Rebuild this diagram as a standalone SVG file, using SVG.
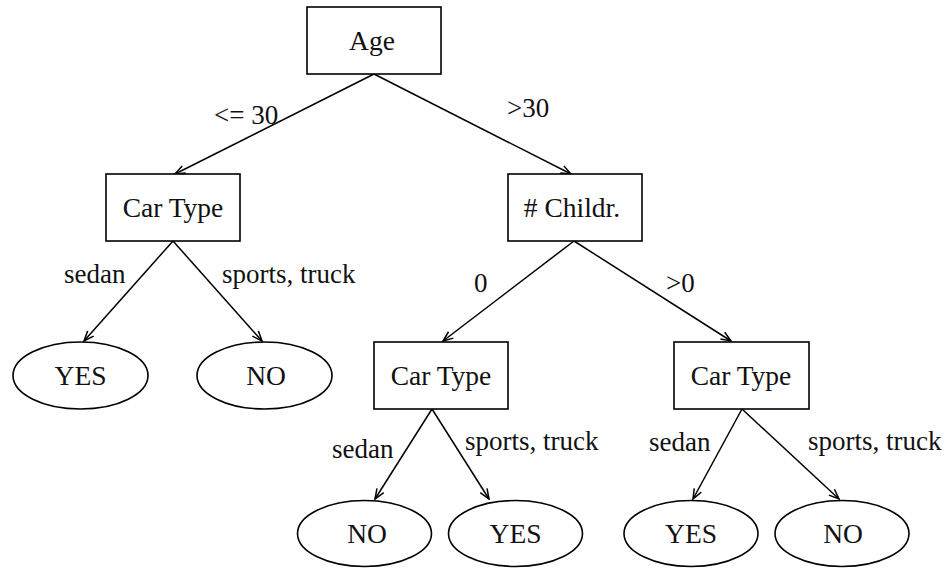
<svg xmlns="http://www.w3.org/2000/svg" width="946" height="570" viewBox="0 0 946 570">
<style>
.box{fill:#fff;stroke:#000;stroke-width:1.6}
.leaf{fill:#fff;stroke:#000;stroke-width:1.6}
.t{font-family:"Liberation Serif","Times New Roman",serif;font-size:27.5px;fill:#111;text-anchor:middle}
.l{font-family:"Liberation Serif","Times New Roman",serif;font-size:27px;fill:#111}
.e{stroke:#000;stroke-width:1.5;fill:none;marker-end:url(#arr)}
</style>
<defs>
<marker id="arr" markerUnits="userSpaceOnUse" viewBox="0 0 12 10" refX="11" refY="5" markerWidth="12" markerHeight="10" orient="auto">
<path d="M1,1 L11,5 L1,9" fill="none" stroke="#000" stroke-width="1.5"/>
</marker>
</defs>
<g id="connectors">
<line class="e" x1="374" y1="74" x2="175" y2="174"/>
<line class="e" x1="374" y1="74" x2="571" y2="174"/>
<line class="e" x1="173" y1="241" x2="84" y2="341"/>
<line class="e" x1="173" y1="241" x2="262" y2="341"/>
<line class="e" x1="574" y1="241" x2="443" y2="341"/>
<line class="e" x1="574" y1="241" x2="731" y2="341"/>
<line class="e" x1="432" y1="409" x2="375" y2="499"/>
<line class="e" x1="432" y1="409" x2="489" y2="499"/>
<line class="e" x1="742" y1="409" x2="693" y2="499"/>
<line class="e" x1="742" y1="409" x2="839" y2="499"/>
<text class="l" x="214" y="124">&lt;= 30</text>
<text class="l" x="507" y="117">&gt;30</text>
<text class="l" x="64" y="283">sedan</text>
<text class="l" x="222" y="283">sports, truck</text>
<text class="l" x="474" y="292">0</text>
<text class="l" x="666" y="292">&gt;0</text>
<text class="l" x="332" y="458">sedan</text>
<text class="l" x="465" y="450">sports, truck</text>
<text class="l" x="649" y="451">sedan</text>
<text class="l" x="808" y="450">sports, truck</text>
</g>
<g id="age"><rect class="box" x="307" y="7" width="134" height="67"/><text class="t" x="372" y="50">Age</text></g>
<g id="cartype1"><rect class="box" x="106" y="174" width="134" height="67"/><text class="t" x="173" y="217">Car Type</text></g>
<g id="childr"><rect class="box" x="508" y="174" width="134" height="67"/><text class="t" x="572" y="217"># Childr.</text></g>
<g id="cartype2"><rect class="box" x="374" y="342" width="134" height="67"/><text class="t" x="441" y="385">Car Type</text></g>
<g id="cartype3"><rect class="box" x="674" y="342" width="135" height="67"/><text class="t" x="741" y="385">Car Type</text></g>
<g id="yes1"><ellipse class="leaf" cx="80.5" cy="375.5" rx="67.5" ry="33.5"/><text class="t" x="80.5" y="385">YES</text></g>
<g id="no1"><ellipse class="leaf" cx="264.5" cy="375.5" rx="67.5" ry="33.5"/><text class="t" x="266" y="385">NO</text></g>
<g id="no2"><ellipse class="leaf" cx="364.5" cy="533.5" rx="67" ry="33"/><text class="t" x="367" y="543">NO</text></g>
<g id="yes2"><ellipse class="leaf" cx="515.5" cy="533.5" rx="67" ry="33"/><text class="t" x="515.5" y="543">YES</text></g>
<g id="yes3"><ellipse class="leaf" cx="691" cy="533.5" rx="67" ry="33"/><text class="t" x="691" y="543">YES</text></g>
<g id="no3"><ellipse class="leaf" cx="842" cy="533.5" rx="67" ry="33"/><text class="t" x="843" y="543">NO</text></g>
</svg>
